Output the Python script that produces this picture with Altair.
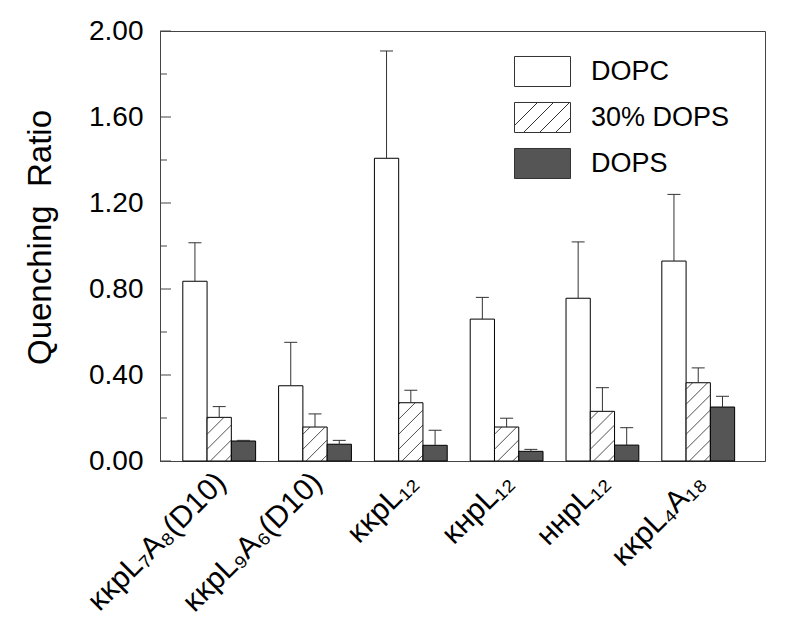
import numpy as np
import pandas as pd
import altair as alt

# ---------------- data ----------------
groups = ["ᴋᴋpL₇A₈(D10)", "ᴋᴋpL₉A₆(D10)", "ᴋᴋpL₁₂", "ᴋʜpL₁₂", "ʜʜpL₁₂", "ᴋᴋpL₄A₁₈"]
series = ["DOPC", "30% DOPS", "DOPS"]
dopc = [0.836, 0.350, 1.408, 0.660, 0.757, 0.930]
dopc_err = [0.179, 0.202, 0.499, 0.101, 0.262, 0.310]
ps30 = [0.203, 0.158, 0.271, 0.158, 0.231, 0.364]
ps30_err = [0.050, 0.061, 0.058, 0.041, 0.110, 0.069]
dops = [0.093, 0.078, 0.073, 0.045, 0.074, 0.251]
dops_err = [0.003, 0.018, 0.070, 0.009, 0.081, 0.050]
y_ticks_major = [0.0, 0.4, 0.8, 1.2, 1.6, 2.0]
y_ticks_minor = [0.2, 0.6, 1.0, 1.4, 1.8]
fills = ["white", "white", "#555555"]

# ---------------- layout ----------------
W, H = 605, 430
X_MIN, X_MAX = -0.618, 5.697
Y_MAX = 2.0
GROUP_W = 0.76
BAR_W = GROUP_W / 3
PX_X = W / (X_MAX - X_MIN)
PX_Y = H / Y_MAX
HATCH_SP = 15.0
CAP_HALF_PX = 6.5

vals = [dopc, ps30, dops]
errs = [dopc_err, ps30_err, dops_err]

bar_rows, err_rows, cap_rows, hatch_rows = [], [], [], []
for i, g in enumerate(groups):
    for j, s in enumerate(series):
        xa = i - GROUP_W / 2 + j * BAR_W
        xb = xa + BAR_W
        xc = (xa + xb) / 2
        v = vals[j][i]
        top = v + errs[j][i]
        bar_rows.append(dict(group=g, series=s, x=xa, x2=xb, y=0.0, y2=v))
        err_rows.append(dict(series=s, x=xc, y=v, y2=top))
        cap_rows.append(dict(series=s, x=xc - CAP_HALF_PX / PX_X,
                             x2=xc + CAP_HALF_PX / PX_X, y=top))
        if s == "30% DOPS":
            wp = (xb - xa) * PX_X
            hp = v * PX_Y
            for d in np.arange(-wp + 6.0, hp, HATCH_SP):
                X0 = max(0.0, -d)
                X1 = min(wp, hp - d)
                if X1 - X0 < 0.8:
                    continue
                hatch_rows.append(dict(x=xa + X0 / PX_X, y=(X0 + d) / PX_Y,
                                       x2=xa + X1 / PX_X, y2=(X1 + d) / PX_Y))

bars_df = pd.DataFrame(bar_rows)
err_df = pd.DataFrame(err_rows)
cap_df = pd.DataFrame(cap_rows)
hatch_df = pd.DataFrame(hatch_rows)
tick_major_df = pd.DataFrame({"y": y_ticks_major})
tick_minor_df = pd.DataFrame({"y": y_ticks_minor})
legend_df = pd.DataFrame({"series": series, "x": [X_MIN - 1] * 3, "y": [-1.0] * 3})
label_df = pd.DataFrame({"x": list(range(len(groups))), "label": groups})

# legend symbol paths (unit square scaled by sqrt(symbolSize))
BOX_H = 0.536
box_path = f"M-1,-{BOX_H}H1V{BOX_H}H-1Z"
sp_u = 16 / 28.0
hatch_path = box_path
b = -1.25
while b < 1:
    xs0, ys0 = b, BOX_H
    xs1, ys1 = b + 2 * BOX_H, -BOX_H
    if xs0 < -1:
        ys0 = BOX_H - (-1 - xs0)
        xs0 = -1
    if xs1 > 1:
        ys1 = -BOX_H + (xs1 - 1)
        xs1 = 1
    hatch_path += f"M{xs0:.3f},{ys0:.3f}L{xs1:.3f},{ys1:.3f}"
    b += sp_u

FONT = "Liberation Sans, Arial, DejaVu Sans"

x_axis = alt.Axis(values=list(range(len(groups))), labels=False,
                  title=None, ticks=False, tickSize=0, grid=False,
                  domainColor="#444")
x_enc = alt.X("x:Q",
              scale=alt.Scale(domain=[X_MIN, X_MAX], nice=False, zero=False),
              axis=x_axis)
y_enc = alt.Y("y:Q",
              scale=alt.Scale(domain=[0, Y_MAX], nice=False, zero=True),
              axis=alt.Axis(values=y_ticks_major, format=".2f", title="Quenching\u00a0 Ratio",
                            ticks=False, tickSize=0, grid=False, labelPadding=17,
                            labelFontSize=28, labelFont=FONT, labelColor="black",
                            titleFontSize=33, titleFont=FONT, titleFontWeight="normal",
                            titleColor="black", titleX=-120, titleY=206,
                            titleAlign="center", titleBaseline="middle",
                            domainColor="#444", labelFlush=False))

legend_def = alt.Legend(title=None, orient="none", legendX=354, legendY=12,
                        symbolSize=3136, rowPadding=-13, labelOffset=20,
                        labelFontSize=27, labelFont=FONT, labelColor="black",
                        symbolStrokeColor="#333", symbolStrokeWidth=1)
fill_scale = alt.Scale(domain=series, range=fills)

bars = alt.Chart(bars_df).mark_rect(stroke="black", strokeWidth=1).encode(
    x=x_enc, x2="x2:Q", y=y_enc, y2="y2:Q",
    fill=alt.Fill("series:N", scale=fill_scale, legend=legend_def),
)

hatch = alt.Chart(hatch_df).mark_rule(color="#222", strokeWidth=0.8).encode(
    x=x_enc, x2="x2:Q", y=y_enc, y2="y2:Q")

errbars = alt.Chart(err_df).mark_rule(color="#333", strokeWidth=1).encode(
    x=x_enc, y=y_enc, y2="y2:Q")

caps = alt.Chart(cap_df).mark_rule(color="#333", strokeWidth=1).encode(
    x=x_enc, x2="x2:Q", y=y_enc)

ticks_major = alt.Chart(tick_major_df).mark_rule(color="#444").encode(
    y=y_enc, x=alt.value(0), x2=alt.value(11))
ticks_minor = alt.Chart(tick_minor_df).mark_rule(color="#444").encode(
    y=y_enc, x=alt.value(0), x2=alt.value(7))

xlabels = alt.Chart(label_df).mark_text(angle=315, align="right", baseline="middle",
                                         font=FONT, fontSize=30, color="black",
                                         dx=3).encode(
    x=x_enc, y=alt.value(H + 19), text="label:N")

legend_pts = alt.Chart(legend_df).mark_point(filled=True, clip=True, opacity=1,
                                             stroke="#333", strokeWidth=1).encode(
    x=x_enc, y=y_enc,
    fill=alt.Fill("series:N", scale=fill_scale, legend=legend_def),
    shape=alt.Shape("series:N", scale=alt.Scale(domain=series,
                                                range=[box_path, hatch_path, box_path]),
                    legend=legend_def),
)

chart = alt.layer(bars, hatch, errbars, caps, ticks_major, ticks_minor, xlabels,
                  legend_pts).properties(
    width=W, height=H,
    autosize=alt.AutoSizeParams(type="none"),
    padding={"left": 152, "top": 23, "right": 12, "bottom": 168},
    background="white",
).configure_view(stroke="#444", strokeWidth=1)

chart.save("out.html", embed_options={"renderer": "svg", "actions": False})
